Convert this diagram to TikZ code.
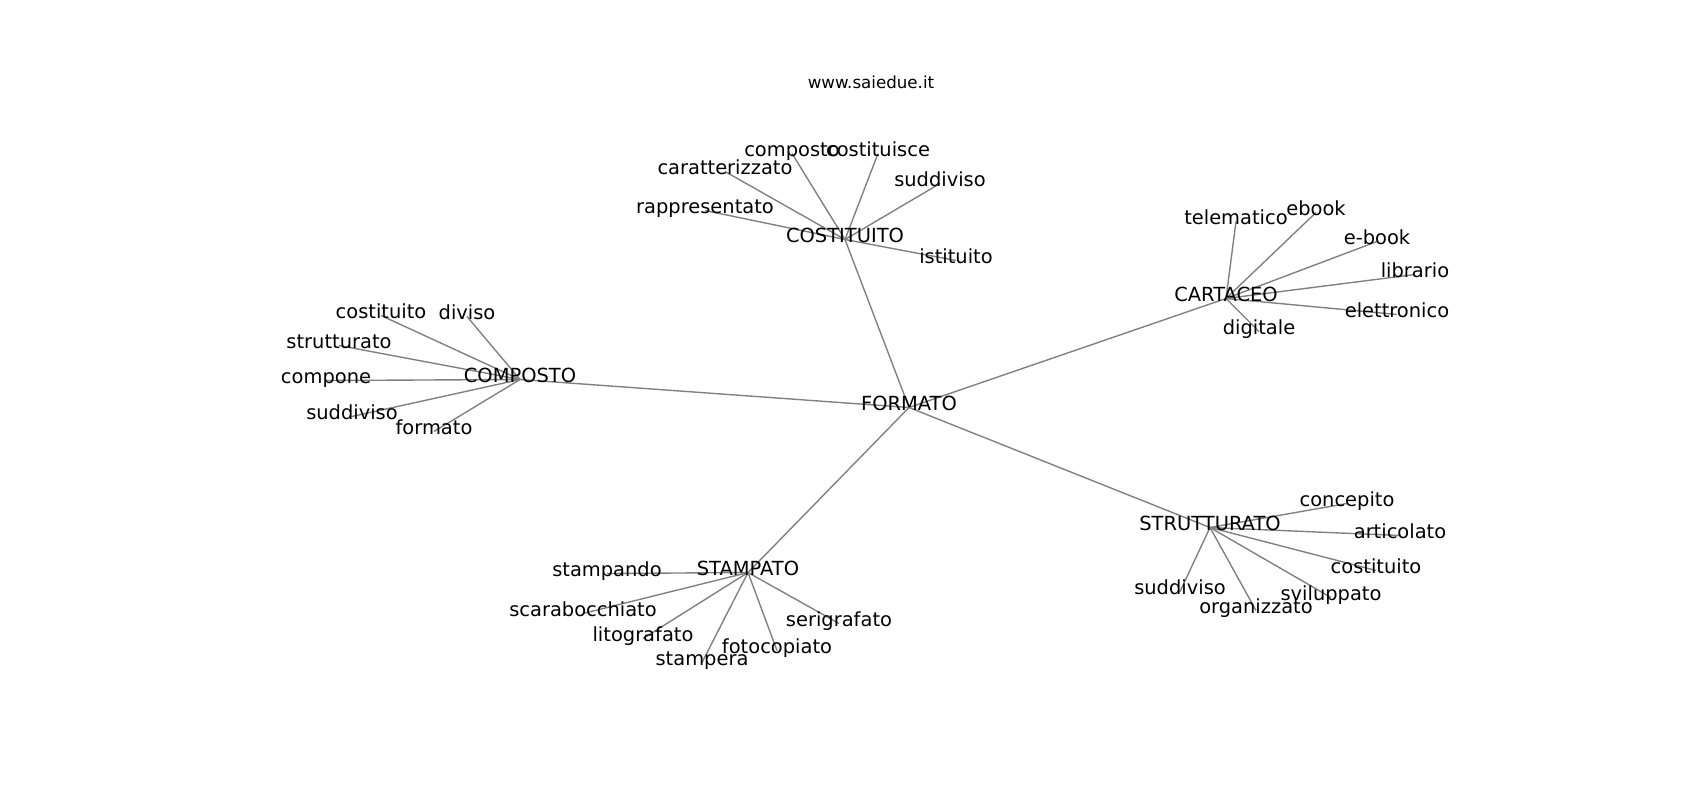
\documentclass[tikz,border=0pt]{standalone}
\usepackage{fontspec}
\setmainfont{DejaVu Sans}
\usepackage{tikz}
\usetikzlibrary{backgrounds}

\begin{document}
\begin{tikzpicture}[
    x=0.72pt, y=-0.72pt,
    edge line/.style={draw=gray, line width=1pt},
    word/.style={inner sep=0pt, text height=0.75em, text depth=0.25em, font=\fontsize{14pt}{16pt}\selectfont},
    title word/.style={inner sep=0pt, text height=0.75em, text depth=0.25em, font=\fontsize{12pt}{14pt}\selectfont}
    ]
    \useasboundingbox (0,-3.5) rectangle (1700,796.5);

    % title
    \node[title word] (site) at (871,82) {www.saiedue.it};

    % hubs
    \node[word] (FORMATO) at (909,404) {FORMATO};
    \node[word] (COSTITUITO) at (845,236) {COSTITUITO};
    \node[word] (CARTACEO) at (1226,295) {CARTACEO};
    \node[word] (COMPOSTO) at (520,376) {COMPOSTO};
    \node[word] (STAMPATO) at (748,569) {STAMPATO};
    \node[word] (STRUTTURATO) at (1210,524) {STRUTTURATO};

    % costituito
    \node[word] (cs-composto) at (792,150) {composto};
    \node[word] (cs-costituisce) at (878,150) {costituisce};
    \node[word] (cs-caratterizzato) at (725,168) {caratterizzato};
    \node[word] (cs-suddiviso) at (940,180) {suddiviso};
    \node[word] (cs-rappresentato) at (705,207) {rappresentato};
    \node[word] (cs-istituito) at (956,257) {istituito};

    % cartaceo
    \node[word] (ca-telematico) at (1236,218) {telematico};
    \node[word] (ca-ebook) at (1316,209) {ebook};
    \node[word] (ca-e-book) at (1377,238) {e-book};
    \node[word] (ca-librario) at (1415,271) {librario};
    \node[word] (ca-elettronico) at (1397,311) {elettronico};
    \node[word] (ca-digitale) at (1259,328) {digitale};

    % composto
    \node[word] (co-costituito) at (381,312) {costituito};
    \node[word] (co-diviso) at (467,313) {diviso};
    \node[word] (co-strutturato) at (339,342) {strutturato};
    \node[word] (co-compone) at (326,377) {compone};
    \node[word] (co-suddiviso) at (352,413) {suddiviso};
    \node[word] (co-formato) at (434,428) {formato};

    % stampato
    \node[word] (sp-stampando) at (607,570) {stampando};
    \node[word] (sp-scarabocchiato) at (583,610) {scarabocchiato};
    \node[word] (sp-litografato) at (643,635) {litografato};
    \node[word] (sp-stampera) at (702,659) {stampera};
    \node[word] (sp-fotocopiato) at (777,647) {fotocopiato};
    \node[word] (sp-serigrafato) at (839,620) {serigrafato};

    % strutturato
    \node[word] (st-concepito) at (1347,500) {concepito};
    \node[word] (st-articolato) at (1400,532) {articolato};
    \node[word] (st-costituito) at (1376,567) {costituito};
    \node[word] (st-sviluppato) at (1331,594) {sviluppato};
    \node[word] (st-organizzato) at (1256,607) {organizzato};
    \node[word] (st-suddiviso) at (1180,588) {suddiviso};

    % edges behind the words
    \begin{scope}[on background layer]
    \draw[edge line] (FORMATO.center) -- (COSTITUITO.center);
    \draw[edge line] (FORMATO.center) -- (CARTACEO.center);
    \draw[edge line] (FORMATO.center) -- (COMPOSTO.center);
    \draw[edge line] (FORMATO.center) -- (STAMPATO.center);
    \draw[edge line] (FORMATO.center) -- (STRUTTURATO.center);

    \draw[edge line] (COSTITUITO.center) -- (cs-composto.center);
    \draw[edge line] (COSTITUITO.center) -- (cs-costituisce.center);
    \draw[edge line] (COSTITUITO.center) -- (cs-caratterizzato.center);
    \draw[edge line] (COSTITUITO.center) -- (cs-suddiviso.center);
    \draw[edge line] (COSTITUITO.center) -- (cs-rappresentato.center);
    \draw[edge line] (COSTITUITO.center) -- (cs-istituito.center);

    \draw[edge line] (CARTACEO.center) -- (ca-telematico.center);
    \draw[edge line] (CARTACEO.center) -- (ca-ebook.center);
    \draw[edge line] (CARTACEO.center) -- (ca-e-book.center);
    \draw[edge line] (CARTACEO.center) -- (ca-librario.center);
    \draw[edge line] (CARTACEO.center) -- (ca-elettronico.center);
    \draw[edge line] (CARTACEO.center) -- (ca-digitale.center);

    \draw[edge line] (COMPOSTO.center) -- (co-costituito.center);
    \draw[edge line] (COMPOSTO.center) -- (co-diviso.center);
    \draw[edge line] (COMPOSTO.center) -- (co-strutturato.center);
    \draw[edge line] (COMPOSTO.center) -- (co-compone.center);
    \draw[edge line] (COMPOSTO.center) -- (co-suddiviso.center);
    \draw[edge line] (COMPOSTO.center) -- (co-formato.center);

    \draw[edge line] (STAMPATO.center) -- (sp-stampando.center);
    \draw[edge line] (STAMPATO.center) -- (sp-scarabocchiato.center);
    \draw[edge line] (STAMPATO.center) -- (sp-litografato.center);
    \draw[edge line] (STAMPATO.center) -- (sp-stampera.center);
    \draw[edge line] (STAMPATO.center) -- (sp-fotocopiato.center);
    \draw[edge line] (STAMPATO.center) -- (sp-serigrafato.center);

    \draw[edge line] (STRUTTURATO.center) -- (st-concepito.center);
    \draw[edge line] (STRUTTURATO.center) -- (st-articolato.center);
    \draw[edge line] (STRUTTURATO.center) -- (st-costituito.center);
    \draw[edge line] (STRUTTURATO.center) -- (st-sviluppato.center);
    \draw[edge line] (STRUTTURATO.center) -- (st-organizzato.center);
    \draw[edge line] (STRUTTURATO.center) -- (st-suddiviso.center);
    \end{scope}

\end{tikzpicture}
\end{document}
